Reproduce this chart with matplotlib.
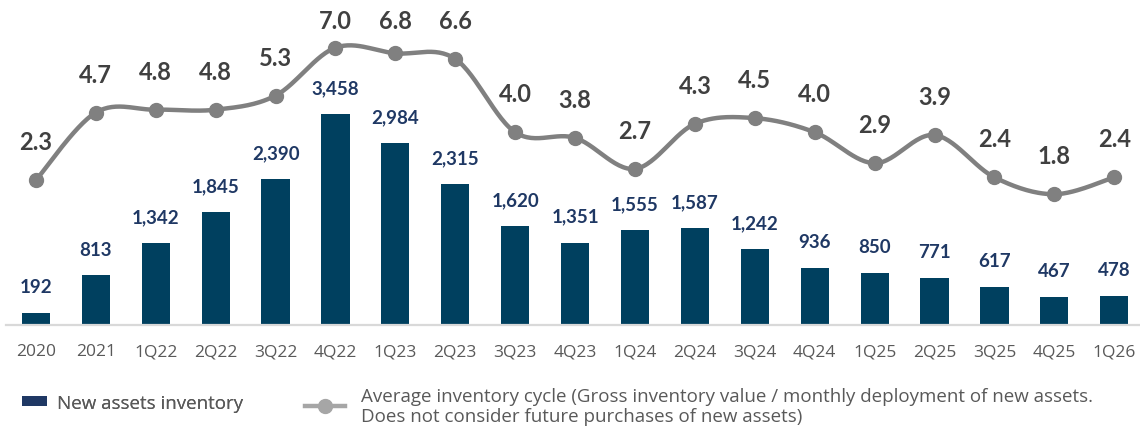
import numpy as np
import matplotlib
matplotlib.use("Agg")
import matplotlib.pyplot as plt
from matplotlib.lines import Line2D
from matplotlib.patches import Patch

plt.rcParams['font.family'] = ['Lato', 'DejaVu Sans']

# Data
periods = ["2020", "2021", "1Q22", "2Q22", "3Q22", "4Q22", "1Q23", "2Q23", "3Q23", "4Q23",
           "1Q24", "2Q24", "3Q24", "4Q24", "1Q25", "2Q25", "3Q25", "4Q25", "1Q26"]
inventory = [192, 813, 1342, 1845, 2390, 3458, 2984, 2315, 1620, 1351,
             1555, 1587, 1242, 936, 850, 771, 617, 467, 478]
cycle_months = [2.3, 4.7, 4.8, 4.8, 5.3, 7.0, 6.8, 6.6, 4.0, 3.8,
                2.7, 4.3, 4.5, 4.0, 2.9, 3.9, 2.4, 1.8, 2.4]

bar_label = "New assets inventory"
line_label = ("Average inventory cycle (Gross inventory value / monthly deployment of new assets.\n"
              "Does not consider future purchases of new assets)")

BAR_COLOR = "#00405F"
BAR_TEXT = "#1F3864"
LINE_COLOR = "#808080"
LINE_TEXT = "#404040"
AXIS_TEXT = "#595959"
LIGHT_FONT = ['Open Sans', 'DejaVu Sans']


def smooth_curve(x, y, steps=30):
    """Piecewise cubic Bezier through the points (Catmull-Rom style tangents)."""
    x = np.asarray(x, float)
    y = np.asarray(y, float)
    n = len(x)
    xs, ys = [], []
    for i in range(n - 1):
        p0 = np.array([x[max(i - 1, 0)], y[max(i - 1, 0)]])
        p1 = np.array([x[i], y[i]])
        p2 = np.array([x[i + 1], y[i + 1]])
        p3 = np.array([x[min(i + 2, n - 1)], y[min(i + 2, n - 1)]])
        c1 = p1 + (p2 - p0) / 6.0
        c2 = p2 - (p3 - p1) / 6.0
        t = np.linspace(0, 1, steps, endpoint=(i == n - 2))
        pts = ((1 - t) ** 3)[:, None] * p1 + (3 * (1 - t) ** 2 * t)[:, None] * c1 \
            + (3 * (1 - t) * t ** 2)[:, None] * c2 + (t ** 3)[:, None] * p2
        xs.append(pts[:, 0])
        ys.append(pts[:, 1])
    return np.concatenate(xs), np.concatenate(ys)


W, H = 1140, 427
fig = plt.figure(figsize=(W / 100, H / 100), dpi=100)
fig.patch.set_facecolor("white")

# plot area in pixels: left 6, right 1140, bottom 326 (from top), top 5
left, right, bottom, top = 6, 1140, 326, 5
ax = fig.add_axes([left / W, 1 - bottom / H, (right - left) / W, (bottom - top) / H])
ax2 = ax.twinx()

x = np.arange(len(periods))
ax.bar(x, inventory, width=0.47, color=BAR_COLOR, zorder=2)
ax.set_ylim(0, 5262)
ax.set_xlim(-0.5, 18.43)

for xi, v in zip(x, inventory):
    ax.annotate(f"{v:,}", (xi, v), xytext=(0, 19), textcoords="offset points",
                ha="center", va="center", fontsize=13.5, fontweight="bold", color=BAR_TEXT)

# secondary axis for the inventory cycle line
ax2.set_ylim(-2.84, 8.55)
sx, sy = smooth_curve(x, cycle_months)
ax2.plot(sx, sy, color=LINE_COLOR, lw=3.2, solid_capstyle="round", zorder=3)
ax2.plot(x, cycle_months, "o", color=LINE_COLOR, ms=10, zorder=4)

for xi, v in zip(x, cycle_months):
    ly = min(v + 1.36, 7.95)
    ax2.text(xi, ly, f"{v:.1f}", ha="center", va="center", fontsize=17,
             fontweight="bold", color=LINE_TEXT)

for a in (ax, ax2):
    for s in a.spines.values():
        s.set_visible(False)
    a.set_yticks([])

ax.spines["bottom"].set_visible(True)
ax.spines["bottom"].set_color("#D9D9D9")
ax.spines["bottom"].set_linewidth(1.6)
ax.set_xticks(x)
ax.set_xticklabels(periods, fontsize=12.5, color=AXIS_TEXT, family=LIGHT_FONT)
ax.tick_params(axis="x", length=0, pad=13)

# legends
h_bar = Patch(facecolor=BAR_TEXT, edgecolor="none")
h_line = Line2D([], [], color="#A6A6A6", lw=3.2, marker="o", ms=10)

leg1 = fig.legend([h_bar], [bar_label], loc="center left",
                  bbox_to_anchor=(22 / W, 1 - 404 / H), frameon=False,
                  prop={'family': LIGHT_FONT, 'size': 13.5},
                  handlelength=1.35, handleheight=0.42,
                  handletextpad=0.5, borderpad=0, borderaxespad=0)
for t in leg1.get_texts():
    t.set_color(AXIS_TEXT)

leg2 = fig.legend([h_line], [line_label], loc="center left",
                  bbox_to_anchor=(305 / W, 1 - 407 / H), frameon=False,
                  prop={'family': LIGHT_FONT, 'size': 13.5},
                  handlelength=2.15, handletextpad=0.85,
                  borderpad=0, borderaxespad=0, labelspacing=0)
for t in leg2.get_texts():
    t.set_color(AXIS_TEXT)
    t.set_linespacing(1.12)
fig.add_artist(leg1)

fig.savefig("out.png", dpi=100, facecolor="white")
